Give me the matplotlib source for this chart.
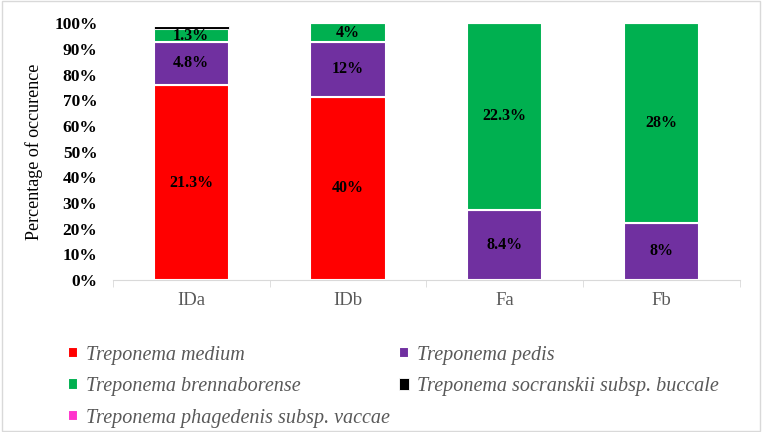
import matplotlib.pyplot as plt
from matplotlib import font_manager as fm
from matplotlib.patches import Rectangle

# Sample groups and the share (in %) of each species in the bar
categories = ['IDa', 'IDb', 'Fa', 'Fb']
species = ['Treponema medium', 'Treponema pedis', 'Treponema brennaborense',
           'Treponema socranskii subsp. buccale',
           'Treponema phagedenis subsp. vaccae']
medium = [75.8, 71.4, 0, 0]
pedis = [17.1, 21.4, 27.4, 22.2]
brennaborense = [4.7, 7.2, 72.6, 77.8]
socranskii = [1.2, 0, 0, 0]
phagedenis = [0, 0, 0, 0]

# Text printed inside the segments
medium_labels = ['21.3%', '40%', '', '']
pedis_labels = ['4.8%', '12%', '8.4%', '8%']
brennaborense_labels = ['1.3%', '4%', '22.3%', '28%']

colors = ['#FF0000', '#7030A0', '#00B050', '#000000', '#FF33CC']
serif = ['Liberation Serif', 'DejaVu Serif']

plt.rcParams['font.family'] = serif

fig = plt.figure(figsize=(7.62, 4.32), dpi=100)
ax = fig.add_axes([0.148, 0.352, 0.823, 0.594])

x = range(len(categories))
series = [medium, pedis, brennaborense, socranskii, phagedenis]
labels = [medium_labels, pedis_labels, brennaborense_labels, None, None]
widths = [1.5, 1.5, 1.5, 0.6, 1.5]
bottom = [0] * len(categories)
bars = []
for vals, name, col, lbl, lw in zip(series, species, colors, labels, widths):
    b = ax.bar(x, vals, 0.48, bottom=bottom, color=col, label=name,
               edgecolor='white', linewidth=lw)
    bars.append(b)
    if lbl is not None:
        ax.bar_label(b, labels=lbl, label_type='center', fontsize=11.5,
                     fontweight='bold', color='black', family=serif)
    bottom = [bt + v for bt, v in zip(bottom, vals)]

ax.set_xlim(-0.5, 3.5)
ax.set_ylim(0, 100)
ax.set_yticks(range(0, 101, 10))
ax.set_yticklabels([f'{v}%' for v in range(0, 101, 10)],
                   fontweight='bold', fontsize=12.5)
ax.set_xticks(list(x))
ax.set_xticklabels(categories, fontsize=13.5, color='#595959')
ax.set_xticks([-0.5, 0.5, 1.5, 2.5, 3.5], minor=True)
ax.tick_params(axis='x', which='major', length=0, pad=9)
ax.tick_params(axis='x', which='minor', length=5, color='#D9D9D9')
ax.tick_params(axis='y', length=0, pad=11)
ax.set_ylabel('Percentage of occurence', fontsize=13, labelpad=8)

for side in ['top', 'right', 'left']:
    ax.spines[side].set_visible(False)
ax.spines['bottom'].set_color('#D9D9D9')

# italic serif for the species names
italic_path = fm.findfont(fm.FontProperties(family='Liberation Serif', style='italic'))
legend_font = fm.FontProperties(fname=italic_path, size=14.5)

# legend is filled column by column, so reorder to read row-wise
order = [0, 2, 4, 1, 3]
leg = fig.legend([bars[i] for i in order], [species[i] for i in order],
                 loc='upper left', bbox_to_anchor=(0.089, 0.2), ncol=2,
                 frameon=False, handlelength=0.5, handleheight=0.5,
                 handletextpad=0.4, columnspacing=0.45, labelspacing=0.62,
                 borderaxespad=0, borderpad=0, prop=legend_font)
for t in leg.get_texts():
    t.set_color('#595959')

fig.add_artist(Rectangle((0.002, 0.003), 0.996, 0.994, transform=fig.transFigure,
                         fill=False, edgecolor='#D9D9D9', linewidth=1))

plt.savefig('out.png', dpi=100)
